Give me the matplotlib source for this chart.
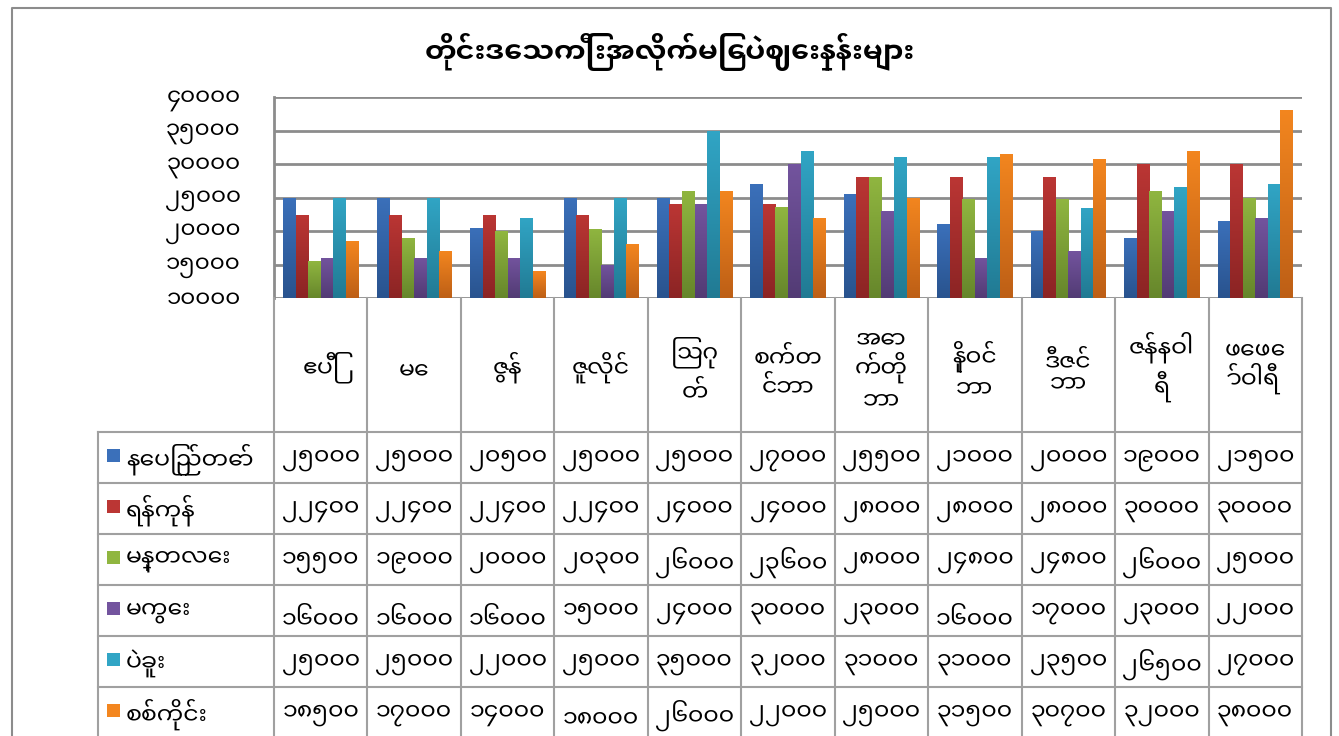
import os
import matplotlib
matplotlib.use('Agg')
import matplotlib.pyplot as plt
import numpy as np
from matplotlib.colors import LinearSegmentedColormap
from matplotlib.font_manager import FontProperties
from matplotlib.patches import Rectangle

FONT_DIR = '/usr/share/fonts/truetype/google-fonts'
REG = os.path.join(FONT_DIR, 'NotoSansMyanmarUI-Regular.ttf')
BOLD = os.path.join(FONT_DIR, 'NotoSansMyanmarUI-Bold.ttf')

title = 'တိုင်းဒေသကြီးအလိုက်မြေပဲဈေးနှုန်းများ'

# months, wrapped as in the original table header
months = ['ဧပြီ', 'မေ', 'ဇွန်', 'ဇူလိုင်', 'ဩဂု\nတ်', 'စက်တ\nင်ဘာ',
          'အော\nက်တို\nဘာ', 'နိုဝင်\nဘာ', 'ဒီဇင်\nဘာ', 'ဇန်နဝါ\nရီ', 'ဖေဖေ\nာ်ဝါရီ']

regions = ['နေပြည်တော်', 'ရန်ကုန်', 'မန္တလေး', 'မကွေး', 'ပဲခူး', 'စစ်ကိုင်း']

naypyitaw = [25000, 25000, 20500, 25000, 25000, 27000, 25500, 21000, 20000, 19000, 21500]
yangon    = [22400, 22400, 22400, 22400, 24000, 24000, 28000, 28000, 28000, 30000, 30000]
mandalay  = [15500, 19000, 20000, 20300, 26000, 23600, 28000, 24800, 24800, 26000, 25000]
magway    = [16000, 16000, 16000, 15000, 24000, 30000, 23000, 16000, 17000, 23000, 22000]
bago      = [25000, 25000, 22000, 25000, 35000, 32000, 31000, 31000, 23500, 26500, 27000]
sagaing   = [18500, 17000, 14000, 18000, 26000, 22000, 25000, 31500, 30700, 32000, 38000]
series = [naypyitaw, yangon, mandalay, magway, bago, sagaing]

yticks = [10000, 15000, 20000, 25000, 30000, 35000, 40000]

# (top, bottom) gradient colours per series
colors = [('#3b70ba', '#29538e'), ('#bb3634', '#8b2424'), ('#90b640', '#66862b'),
          ('#73549e', '#523b74'), ('#31a5c5', '#217a93'), ('#f3861f', '#bd5f16')]

MM = str.maketrans('0123456789', '၀၁၂၃၄၅၆၇၈၉')


def mm(n):
    return str(n).translate(MM)


def fp(size, bold=False):
    path = BOLD if bold else REG
    if os.path.exists(path):
        return FontProperties(fname=path, size=size)
    return FontProperties(family=['Noto Sans Myanmar UI', 'Padauk', 'DejaVu Sans'],
                          size=size, weight='bold' if bold else 'normal')


W, H = 1339, 736
GRID = '#8c8c8c'
LINE = '#a0a0a0'

# pixel layout
PL, PR, PT, PB = 274, 1302, 97, 298
ROW_TOP, ROW_H = 432, 51
LEFT_COL = 98
n = len(months)
cell_w = (PR - PL) / n

fig = plt.figure(figsize=(W / 100, H / 100), dpi=100)
ax = fig.add_axes([PL / W, 1 - PB / H, (PR - PL) / W, (PB - PT) / H])
ax.set_facecolor('none')

x = np.arange(n)
bw = 0.134
base = yticks[0]
grad = np.linspace(0, 1, 256).reshape(-1, 1)
for i, vals in enumerate(series):
    bars = ax.bar(x + (i - 2.5) * bw, np.array(vals) - base, bw, bottom=base,
                  color=colors[i][1], zorder=3, linewidth=0)
    cmap = LinearSegmentedColormap.from_list('g%d' % i, [colors[i][1], colors[i][0]])
    for b in bars:
        x0, w_ = b.get_x(), b.get_width()
        y0, y1 = b.get_y(), b.get_y() + b.get_height()
        im = ax.imshow(grad, extent=[x0, x0 + w_, y0, y1], origin='lower',
                       cmap=cmap, aspect='auto', zorder=4, interpolation='bilinear')
        im.set_clip_path(b)

ax.set_xlim(-0.5, n - 0.5)
ax.set_ylim(10000, 40000)
ax.set_yticks(yticks)
ax.set_yticklabels([mm(v) for v in yticks], fontproperties=fp(16.5))
ax.set_xticks([])
ax.tick_params(axis='y', length=0, pad=24)
ax.grid(axis='y', color=GRID, linewidth=2, zorder=0)
ax.set_axisbelow(True)
for s in ['top', 'right', 'bottom']:
    ax.spines[s].set_visible(False)
ax.spines['left'].set_color(GRID)
ax.spines['left'].set_linewidth(2)

# overlay in pixel coordinates for the border, title and the data table
ov = fig.add_axes([0, 0, 1, 1])
ov.set_xlim(0, W)
ov.set_ylim(H, 0)
ov.set_axis_off()
ov.patch.set_visible(False)

# outer chart border
ov.plot([12, 12, 1331, 1331], [H + 5, 8, 8, H + 5], color=GRID, lw=1.5)

ov.text(670, 52, title, ha='center', va='center', fontproperties=fp(20.5, True))

# table grid
bottom = ROW_TOP + ROW_H * len(regions)
for k in range(n + 1):
    xx = PL + k * cell_w
    ov.plot([xx, xx], [PB, bottom], color=LINE, lw=1.5)
ov.plot([LEFT_COL, LEFT_COL], [ROW_TOP, bottom], color=LINE, lw=1.5)
for r in range(len(regions) + 1):
    yy = ROW_TOP + r * ROW_H
    ov.plot([LEFT_COL, PR], [yy, yy], color=LINE, lw=1.5)

# month headers
for k, m in enumerate(months):
    ov.text(PL + (k + 0.5) * cell_w, (PB + ROW_TOP) / 2 + 2, m, ha='center', va='center',
            fontproperties=fp(17), linespacing=1.3)

# region rows with legend keys and values
for r, (name, vals) in enumerate(zip(regions, series)):
    yc = ROW_TOP + (r + 0.5) * ROW_H
    ov.add_patch(Rectangle((107, yc - 9), 13, 13, color=colors[r][0], lw=0))
    ov.text(126, yc + 2, name, ha='left', va='center', fontproperties=fp(17))
    for k, v in enumerate(vals):
        ov.text(PL + (k + 0.5) * cell_w, yc + 3, mm(v), ha='center', va='center',
                fontproperties=fp(17))

fig.savefig('out.png', dpi=100)
